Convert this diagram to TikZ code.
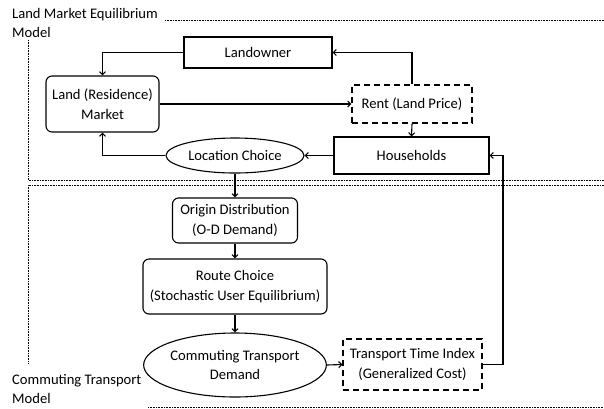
\documentclass[tikz,border=0pt]{standalone}
\usepackage{fontspec}
\setmainfont{Carlito}
\usetikzlibrary{shapes.geometric,arrows.meta}
\begin{document}
\begin{tikzpicture}[x=1pt,y=-1pt,
  txt/.style={font=\fontsize{14.6}{19.5}\selectfont},
  box/.style={draw, line width=1.1pt, inner sep=0pt, align=center, txt},
  rbox/.style={box, rounded corners=6pt},
  dbox/.style={box, dash pattern=on 6pt off 4pt},
  ell/.style={box, ellipse},
  arr/.style={line width=1.1pt, -{Straight Barb[length=3pt,width=6pt]}},
  dots/.style={line width=0.9pt, dash pattern=on 0.8pt off 0.8pt}]
\fill[white] (0,0) rectangle (604,408);
\useasboundingbox (0,0) rectangle (604,408);
% section labels
\node[txt, anchor=base west, inner sep=0pt] (t1) at (12,18) {Land Market Equilibrium};
\node[txt, anchor=base west, inner sep=0pt] (t2) at (12,37) {Model};
\node[txt, anchor=base west, inner sep=0pt] (t3) at (12,384) {Commuting Transport};
\node[txt, anchor=base west, inner sep=0pt] (t4) at (12,403) {Model};
% dotted frames
\draw[dots] (165,20) -- (604,20);
\draw[dots] (28,40) -- (28,180) -- (604,180);
\draw[dots] (604,185) -- (28,185) -- (28,363);
\draw[dots] (148,407) -- (604,407);
% nodes
\node[box, minimum width=148pt, minimum height=31pt] (lo) at (258,52.5) {Landowner};
\node[rbox, minimum width=113pt, minimum height=56pt] (lm) at (102.5,104) {Land (Residence)\\Market};
\node[dbox, minimum width=120pt, minimum height=38pt] (rent) at (412,104) {Rent (Land Price)};
\node[box, minimum width=155pt, minimum height=37pt] (hh) at (411.5,155.5) {Households};
\node[ell, minimum width=138pt, minimum height=35pt] (lc) at (235,155.5) {Location Choice};
\node[rbox, minimum width=125pt, minimum height=45pt] (od) at (235,220.5) {Origin Distribution\\(O-D Demand)};
\node[rbox, minimum width=184pt, minimum height=55pt] (rc) at (235,286.5) {Route Choice\\(Stochastic User Equilibrium)};
\node[ell, minimum width=166pt, minimum height=64pt] (ctd) at (235,365) {Commuting Transport\\Demand};
\node[dbox, minimum width=139pt, minimum height=51pt] (tti) at (412.5,364.5) {Transport Time Index\\(Generalized Cost)};
\coordinate (c1) at (503,0);
% connectors
\draw[arr] (lo.west) -| (lm.north);
\draw[arr] (rent.north) |- (lo.east);
\draw[arr] (lm.east) -- (rent.west);
\draw[arr] (rent.south) -- (hh.north);
\draw[arr] (hh.west) -- (lc.east);
\draw[arr] (lc.west) -| (lm.south);
\draw[arr] (lc.south) -- (od.north);
\draw[arr] (od.south) -- (rc.north);
\draw[arr] (rc.south) -- (ctd.north);
\draw[arr] (ctd.east) -- (tti.west);
\draw[arr] (tti.east) -- (tti.east -| c1) -- (hh.east -| c1) -- (hh.east);
\end{tikzpicture}
\end{document}
